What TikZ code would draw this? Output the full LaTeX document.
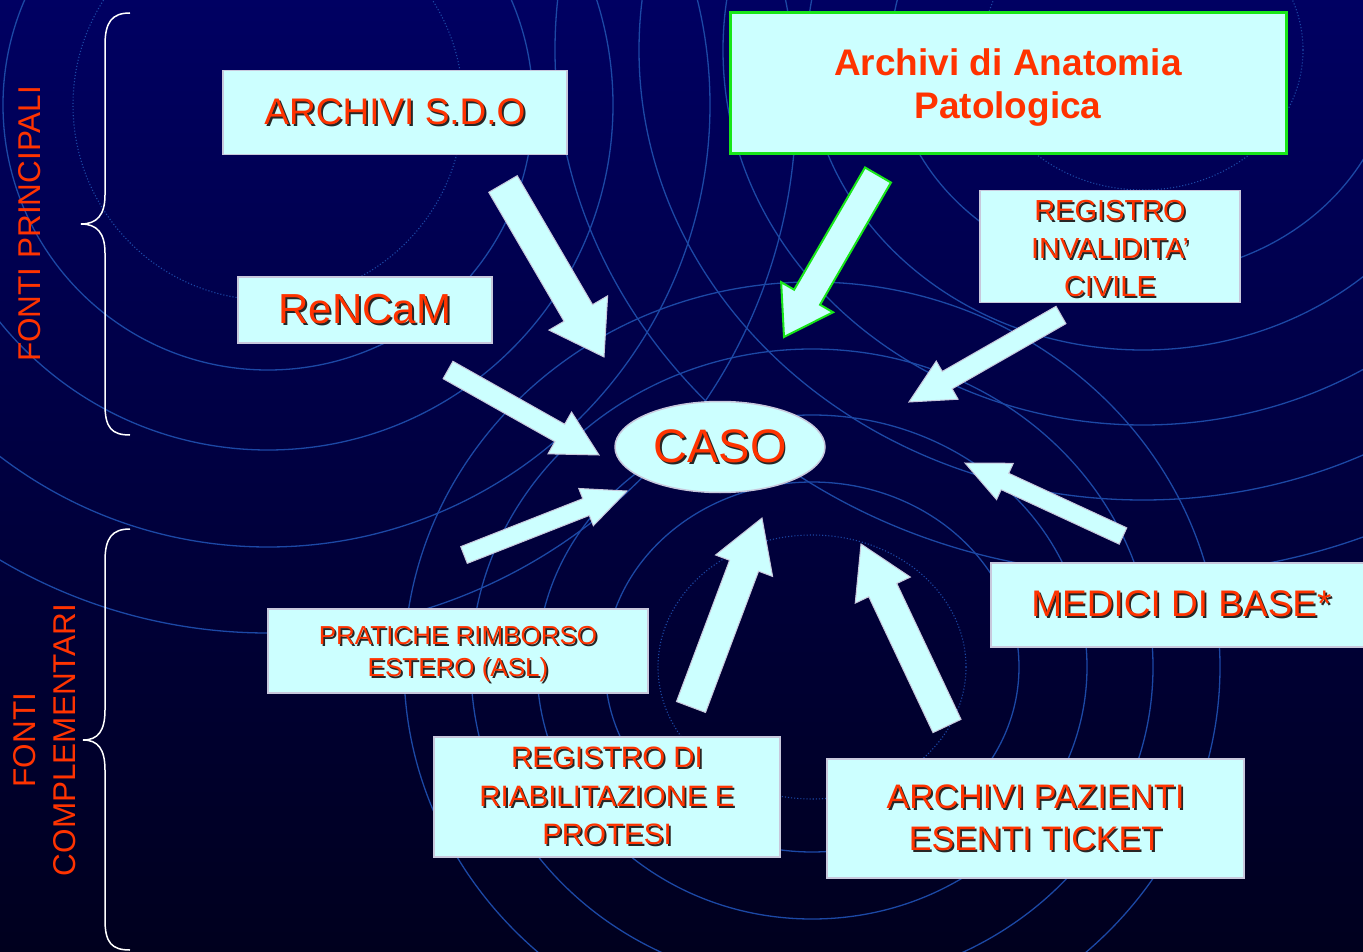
\documentclass[tikz,border=0pt]{standalone}
\usepackage{fontspec}
\setmainfont{Liberation Sans}
\usetikzlibrary{shapes.geometric,calc}

\definecolor{navytop}{RGB}{0,0,98}
\definecolor{navymid}{RGB}{0,0,88}
\definecolor{navybot}{RGB}{0,0,30}
\definecolor{ringblue}{RGB}{28,72,165}
\definecolor{boxcyan}{RGB}{204,255,255}
\definecolor{boxedge}{RGB}{200,200,220}
\definecolor{txtred}{RGB}{255,51,0}
\definecolor{limegreen}{RGB}{25,230,25}

\newcommand\shd[1]{\leavevmode\rlap{\kern1.8pt\raisebox{-1.8pt}{\color{black!85}#1}}#1}
\newcommand\fsz[2]{\fontsize{#1}{#2}\selectfont}
\newcommand\up[1]{\rule{0pt}{#1}}
% block arrow: style, tail, tip, half shaft, half head, head length
\newcommand\bigarrow[6][]{%
  \coordinate (hb) at ($(#3)!#6!(#2)$);
  \filldraw[arrowbody,#1] ($(#2)!#4!90:(#3)$) -- ($(hb)!#4!90:(#3)$) -- ($(hb)!#5!90:(#3)$) -- (#3)
    -- ($(hb)!#5!-90:(#3)$) -- ($(hb)!#4!-90:(#3)$) -- ($(#2)!#4!-90:(#3)$) -- cycle;}

\tikzset{
  srcbox/.style={draw=boxedge, line width=1.5, fill=boxcyan, text=txtred, align=center, inner sep=0pt},
  ring/.style={draw=ringblue, line width=1.3},
  dotring/.style={draw=ringblue, line width=1.1, dotted},
  arrowbody/.style={fill=boxcyan, draw=boxedge, line width=1},
  brace/.style={draw=white, line width=1.5},
  sidelabel/.style={text=txtred, rotate=90, align=center, inner sep=0pt}
}

\begin{document}
\begin{tikzpicture}[x=1pt,y=-1pt]
\useasboundingbox (0,0) rectangle (1363,952);
\clip (0,0) rectangle (1363,952);
\shade[top color=navytop, middle color=navymid, bottom color=navybot] (0,0) rectangle (1363,952);

% background rings
\draw[dotring] (268,105) circle [radius=195];
\foreach \r in {265,345,442,528}
  \draw[ring] (268,105) circle [radius=\r];
\draw[dotring] (812,667) circle [x radius=154, y radius=132];
\foreach \rx/\ry in {207/185,275/252,341/318,408/385}
  \draw[ring] (812,667) circle [x radius=\rx, y radius=\ry];
\draw[dotring] (1143,50) circle [x radius=160, y radius=140];
\foreach \rx/\ry in {252/225,336/300,420/375,504/450,588/525}
  \draw[ring] (1143,50) circle [x radius=\rx, y radius=\ry];

% braces
\draw[brace] (130,13) .. controls (112,13) and (105,22) .. (105,45) -- (105,195)
  .. controls (105,215) and (97,224) .. (81,224) .. controls (97,224) and (105,233) .. (105,253)
  -- (105,405) .. controls (105,428) and (112,435) .. (130,435);
\draw[brace] (130,529) .. controls (112,529) and (105,538) .. (105,561) -- (105,710)
  .. controls (105,731) and (98,740) .. (83,740) .. controls (98,740) and (105,749) .. (105,770)
  -- (105,920) .. controls (105,943) and (112,950) .. (130,950);

\node[sidelabel, font=\fsz{31.5}{40}] (principali) at (30,224) {FONTI PRINCIPALI};
\node[sidelabel, font=\fsz{31.5}{40}] (complementari) at (45,740) {FONTI\\COMPLEMENTARI};

% arrows
\coordinate (sdo-t) at (503,184);    \coordinate (sdo-h) at (604,357);
\coordinate (rencam-t) at (448,370); \coordinate (rencam-h) at (599,455);
\coordinate (anat-t) at (878,175);   \coordinate (anat-h) at (784,337);
\coordinate (inval-t) at (1061,315); \coordinate (inval-h) at (909,402);
\coordinate (prat-t) at (464,555);   \coordinate (prat-h) at (627,491);
\coordinate (riab-t) at (691,707);   \coordinate (riab-h) at (762,518);
\coordinate (ticket-t) at (947,726); \coordinate (ticket-h) at (861,544);
\coordinate (medici-t) at (1123,536); \coordinate (medici-h) at (965,463);

\bigarrow{sdo-t}{sdo-h}{16.5pt}{34pt}{51pt}
\bigarrow{rencam-t}{rencam-h}{10pt}{24pt}{45pt}
\bigarrow[draw=limegreen, line width=2]{anat-t}{anat-h}{15pt}{30pt}{46pt}
\bigarrow{inval-t}{inval-h}{10pt}{22pt}{44pt}
\bigarrow{prat-t}{prat-h}{9pt}{20pt}{44pt}
\bigarrow{riab-t}{riab-h}{15.5pt}{30.5pt}{51pt}
\bigarrow{ticket-t}{ticket-h}{15.5pt}{30.5pt}{51pt}
\bigarrow{medici-t}{medici-h}{9pt}{20pt}{44pt}

% sources
\node[srcbox, minimum width=344, minimum height=84, font=\fsz{37}{44}] (sdo) at (395,112.7) {\shd{ARCHIVI S.D.O}};
\node[srcbox, minimum width=254, minimum height=66, font=\fsz{42}{50}] (rencam) at (365,310) {\shd{ReNCaM}};
\node[srcbox, draw=limegreen, line width=3, minimum width=556, minimum height=141, font=\bfseries\fsz{37}{43}] (anat) at (1008,83.5) {\up{35pt}Archivi di Anatomia\\Patologica};
\node[srcbox, minimum width=260, minimum height=112, font=\fsz{29}{38}] (inval) at (1110,246.5) {\up{26pt}\shd{REGISTRO}\\\shd{INVALIDITA'}\\\shd{CIVILE}};
\node[srcbox, ellipse, minimum width=210, minimum height=91, font=\fsz{47}{56}] (caso) at (720,447) {\shd{CASO}};
\node[srcbox, minimum width=381, minimum height=84, font=\fsz{37}{44}] (medici) at (1181.5,605) {\shd{MEDICI DI BASE*}};
\node[srcbox, minimum width=380, minimum height=84, font=\fsz{26}{32}] (prat) at (458,651) {\up{26pt}\shd{PRATICHE RIMBORSO}\\\shd{ESTERO (ASL)}};
\node[srcbox, minimum width=346, minimum height=120, font=\fsz{29.5}{38.5}] (riab) at (607,797) {\shd{REGISTRO DI}\\\shd{RIABILITAZIONE E}\\\shd{PROTESI}};
\node[srcbox, minimum width=417, minimum height=119, font=\fsz{34}{42}] (ticket) at (1035.5,818.5) {\shd{ARCHIVI PAZIENTI}\\\shd{ESENTI TICKET}};
\end{tikzpicture}
\end{document}
